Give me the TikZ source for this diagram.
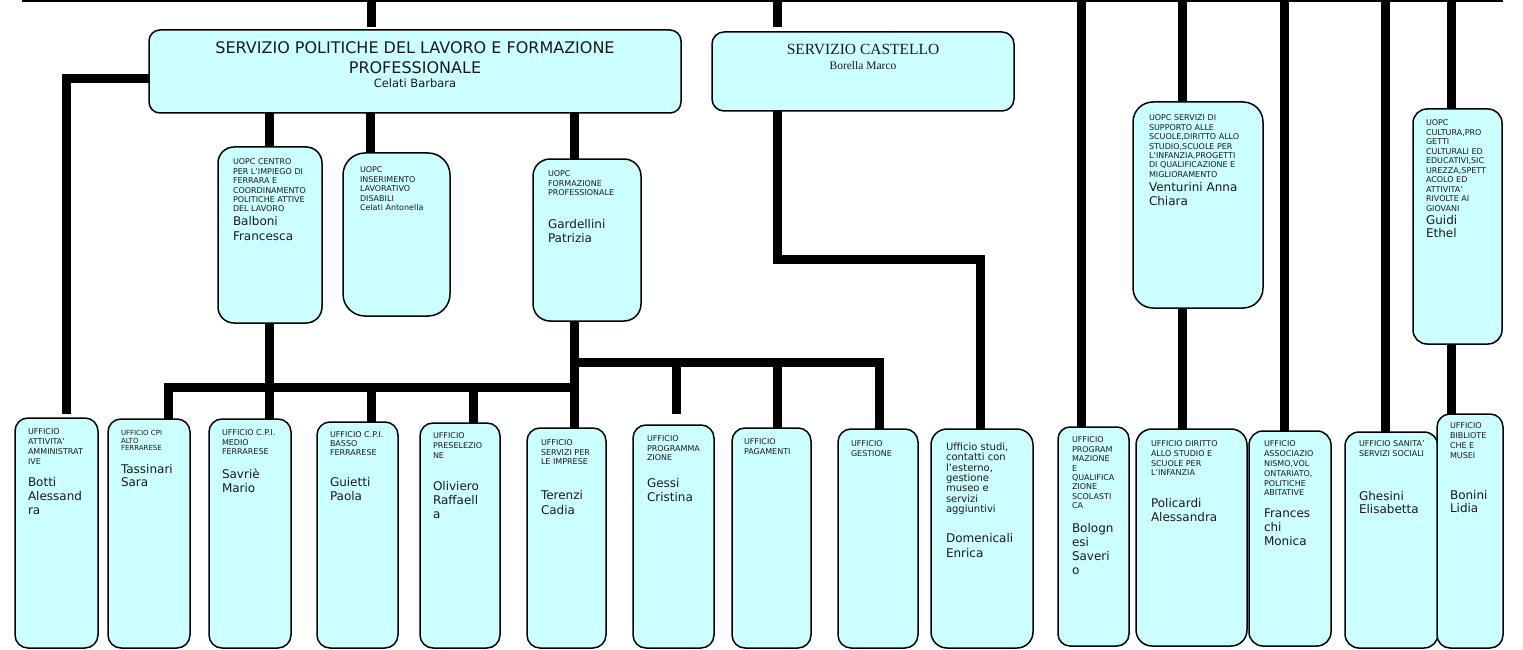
\documentclass[tikz,border=0pt]{standalone}
\usepackage{fontspec}
\setmainfont{DejaVu Sans}
\newfontfamily\castfont{Liberation Serif}
\usetikzlibrary{calc}
\definecolor{boxfill}{HTML}{CCFFFF}
\definecolor{txtcol}{HTML}{1A1A1A}
\newcommand\obox[6]{\node[box,rounded corners=#6pt,minimum width=#4pt,minimum height=#5pt] (#1) at (#2,#3) {};}
\begin{document}
\begin{tikzpicture}[x=1pt,y=-1pt,
  box/.style={draw=black,line width=1.5pt,fill=boxfill,anchor=north west,inner sep=0pt,outer sep=0pt},
  conn/.style={line width=9pt,line cap=butt,line join=miter},
  txt/.style={anchor=north west,inner sep=0pt,outer sep=0pt,align=left,text=txtcol},
  ctxt/.style={anchor=base,inner sep=0pt,outer sep=0pt,align=center,text=txtcol},
  nm/.style={font=\fontsize{12}{14}\selectfont}]
\useasboundingbox (0,0) rectangle (1523,650);
\fill[white] (0,0) rectangle (1523,650);

% named coordinates
\coordinate (tl) at (22,1);
\coordinate (tr) at (1503,1);
\coordinate (t1) at (371,0);
\coordinate (t2) at (777,0);
\coordinate (t3) at (1081,0);
\coordinate (t4) at (1182,0);
\coordinate (t5) at (1284,0);
\coordinate (t6) at (1385,0);
\coordinate (t7) at (1451,0);
\coordinate (lc) at (66,78.5);
\coordinate (bs) at (66,414);
\coordinate (c1) at (269,0);
\coordinate (c2) at (370,0);
\coordinate (c3) at (574,0);
\coordinate (b1) at (168,387);
\coordinate (b2) at (574,387);
\coordinate (b3) at (371,387);
\coordinate (b4) at (473,387);
\coordinate (f1) at (574,362);
\coordinate (f2) at (879,362);
\coordinate (f3) at (676,362);
\coordinate (f4) at (676,414);
\coordinate (f5) at (777,362);
\coordinate (k1) at (777,259);
\coordinate (k2) at (980,259);

% boxes
\obox{main}{149}{30}{532}{83}{11}
\obox{castello}{712}{32}{302}{79}{12}
\obox{centro}{218}{147}{104}{176}{16}
\obox{inser}{343}{153}{107}{163}{22}
\obox{formaz}{533}{159}{108}{162}{17}
\obox{servizi}{1133}{102}{130}{206}{20}
\obox{cultura}{1413}{109}{89}{235}{14}
\obox{botti}{15}{418}{83}{230}{13}
\obox{tass}{108}{419}{82}{229}{13}
\obox{savrie}{209}{419}{82}{229}{13}
\obox{guietti}{317}{422}{81}{226}{13}
\obox{olivi}{420}{423}{80}{225}{13}
\obox{terenzi}{527}{428}{79}{220}{13}
\obox{gessi}{633}{425}{81}{223}{13}
\obox{pagam}{732}{428}{79}{220}{13}
\obox{gestione}{838}{429}{80}{219}{13}
\obox{studi}{931}{429}{102}{219}{16}
\obox{bologn}{1058}{427}{71}{219}{12}
\obox{policardi}{1136}{429}{111}{217}{16}
\obox{franc}{1249}{431}{82}{215}{14}
\obox{ghesini}{1345}{432}{93}{216}{14}
\obox{bonini}{1437}{414}{66}{234}{13}

% connectors
\draw[line width=2pt] (tl) -- (tr);
\draw[conn,shorten >=3pt] (t1) -- (t1 |- main.north);
\draw[conn,shorten >=5pt] (t2) -- (t2 |- castello.north);
\draw[conn] (t3) -- (t3 |- bologn.north);
\draw[conn] (t4) -- (t4 |- servizi.north);
\draw[conn] (t5) -- (t5 |- franc.north);
\draw[conn] (t6) -- (t6 |- ghesini.north);
\draw[conn] (t7) -- (t7 |- cultura.north);
\draw[conn] (t4 |- servizi.south) -- (t4 |- policardi.north);
\draw[conn] (t7 |- cultura.south) -- (t7 |- bonini.north);
\draw[conn] (lc -| main.west) -- (lc) -- (bs);
\draw[conn] (c1 |- main.south) -- (c1 |- centro.north);
\draw[conn] (c2 |- main.south) -- (c2 |- inser.north);
\draw[conn] (c3 |- main.south) -- (c3 |- formaz.north);
\draw[conn] (c1 |- centro.south) -- (c1 |- savrie.north);
\draw[conn] (b1 |- tass.north) -- (b1) -- (b2);
\draw[conn] (c3 |- formaz.south) -- (c3 |- terenzi.north);
\draw[conn] (b3) -- (b3 |- guietti.north);
\draw[conn] (b4) -- (b4 |- olivi.north);
\draw[conn] (f1) -- (f2) -- (f2 |- gestione.north);
\draw[conn] (f3) -- (f4);
\draw[conn] (f5) -- (f5 |- pagam.north);
\draw[conn] (t2 |- castello.south) -- (k1) -- (k2) -- (k2 |- studi.north);

% main titles
\node[ctxt,font=\fontsize{16}{20}\selectfont] (mainT) at (415,53.8) {SERVIZIO POLITICHE DEL LAVORO E FORMAZIONE};
\node[ctxt,font=\fontsize{16}{20}\selectfont] (mainT2) at (415,73.8) {PROFESSIONALE};
\node[ctxt,font=\fontsize{11.5}{14}\selectfont] (mainN) at (415,87.2) {Celati Barbara};
\node[ctxt,font=\castfont\fontsize{15.5}{18}\selectfont] (castT) at (863,55) {SERVIZIO CASTELLO};
\node[ctxt,font=\castfont\fontsize{11.5}{14}\selectfont] (castN) at (863,70) {Borella Marco};

% UOPC boxes
\node[txt,font=\fontsize{8}{9.4}\selectfont] (centroH) at (233,159) {UOPC CENTRO\\PER L’IMPIEGO DI\\FERRARA E\\COORDINAMENTO\\POLITICHE ATTIVE\\DEL LAVORO};
\node[txt,font=\fontsize{12}{15}\selectfont] (centroN) at (233,216.5) {Balboni\\Francesca};
\node[txt,font=\fontsize{8}{9.5}\selectfont] (inserH) at (360,167) {UOPC\\INSERIMENTO\\LAVORATIVO\\DISABILI\\Celati Antonella};
\node[txt,font=\fontsize{8}{9.5}\selectfont] (formazH) at (548,171) {UOPC\\FORMAZIONE\\PROFESSIONALE};
\node[txt,nm] (formazN) at (548,219.5) {Gardellini\\Patrizia};
\node[txt,font=\fontsize{8}{9.4}\selectfont] (serviziH) at (1149,115) {UOPC SERVIZI DI\\SUPPORTO ALLE\\SCUOLE,DIRITTO ALLO\\STUDIO,SCUOLE PER\\L’INFANZIA,PROGETTI\\DI QUALIFICAZIONE E\\MIGLIORAMENTO};
\node[txt,nm] (serviziN) at (1149,182.5) {Venturini Anna\\Chiara};
\node[txt,font=\fontsize{8}{9.5}\selectfont] (culturaH) at (1426,120) {UOPC\\CULTURA,PRO\\GETTI\\CULTURALI ED\\EDUCATIVI,SIC\\UREZZA,SPETT\\ACOLO ED\\ATTIVITA’\\RIVOLTE AI\\GIOVANI};
\node[txt,font=\fontsize{12}{13}\selectfont] (culturaN) at (1426,215.5) {Guidi\\Ethel};

% bottom boxes
\node[txt,font=\fontsize{8}{9.7}\selectfont] (bottiH) at (28,429) {UFFICIO\\ATTIVITA’\\AMMINISTRAT\\IVE};
\node[txt,nm] (bottiN) at (28,477.5) {Botti\\Alessand\\ra};
\node[txt,font=\fontsize{7}{7.5}\selectfont] (tassH) at (121,430.4) {UFFICIO CPI\\ALTO\\FERRARESE};
\node[txt,font=\fontsize{12}{13}\selectfont] (tassN) at (121,464.5) {Tassinari\\Sara};
\node[txt,font=\fontsize{8}{9.5}\selectfont] (savrieH) at (222,430) {UFFICIO C.P.I.\\MEDIO\\FERRARESE};
\node[txt,nm] (savrieN) at (222,468.5) {Savriè\\Mario};
\node[txt,font=\fontsize{8}{9}\selectfont] (guiettiH) at (330,432) {UFFICIO C.P.I.\\BASSO\\FERRARESE};
\node[txt,nm] (guiettiN) at (330,477.5) {Guietti\\Paola};
\node[txt,font=\fontsize{8}{10}\selectfont] (oliviH) at (433,433) {UFFICIO\\PRESELEZIO\\NE};
\node[txt,nm] (oliviN) at (433,481.5) {Oliviero\\Raffaell\\a};
\node[txt,font=\fontsize{8}{9.5}\selectfont] (terenziH) at (541,440) {UFFICIO\\SERVIZI PER\\LE IMPRESE};
\node[txt,font=\fontsize{12}{15}\selectfont] (terenziN) at (541,490.5) {Terenzi\\Cadia};
\node[txt,font=\fontsize{8}{9.5}\selectfont] (gessiH) at (647,436) {UFFICIO\\PROGRAMMA\\ZIONE};
\node[txt,nm] (gessiN) at (647,478.5) {Gessi\\Cristina};
\node[txt,font=\fontsize{8}{9.5}\selectfont] (pagamH) at (744,439) {UFFICIO\\PAGAMENTI};
\node[txt,font=\fontsize{8}{9.5}\selectfont] (gestioneH) at (851,441) {UFFICIO\\GESTIONE};
\node[txt,font=\fontsize{10}{10.3}\selectfont] (studiH) at (946,443) {Ufficio studi,\\contatti con\\l’esterno,\\gestione\\museo e\\servizi\\aggiuntivi};
\node[txt,font=\fontsize{12}{15}\selectfont] (studiN) at (946,533.5) {Domenicali\\Enrica};
\node[txt,font=\fontsize{8}{9.4}\selectfont] (bolognH) at (1072,437) {UFFICIO\\PROGRAM\\MAZIONE\\E\\QUALIFICA\\ZIONE\\SCOLASTI\\CA};
\node[txt,nm] (bolognN) at (1072,523.5) {Bologn\\esi\\Saveri\\o};
\node[txt,font=\fontsize{8}{9.6}\selectfont] (policardiH) at (1151,441) {UFFICIO DIRITTO\\ALLO STUDIO E\\SCUOLE PER\\L’INFANZIA};
\node[txt,nm] (policardiN) at (1151,498.5) {Policardi\\Alessandra};
\node[txt,font=\fontsize{8}{9.8}\selectfont] (francH) at (1264,441) {UFFICIO\\ASSOCIAZIO\\NISMO,VOL\\ONTARIATO,\\POLITICHE\\ABITATIVE};
\node[txt,nm] (francN) at (1264,508.5) {Frances\\chi\\Monica};
\node[txt,font=\fontsize{8}{10}\selectfont] (ghesiniH) at (1359,441) {UFFICIO SANITA’\\SERVIZI SOCIALI};
\node[txt,font=\fontsize{12}{13}\selectfont] (ghesiniN) at (1359,491.5) {Ghesini\\Elisabetta};
\node[txt,font=\fontsize{8}{10}\selectfont] (boniniH) at (1450,423) {UFFICIO\\BIBLIOTE\\CHE E\\MUSEI};
\node[txt,font=\fontsize{12}{13}\selectfont] (boniniN) at (1450,490.5) {Bonini\\Lidia};
\end{tikzpicture}
\end{document}
